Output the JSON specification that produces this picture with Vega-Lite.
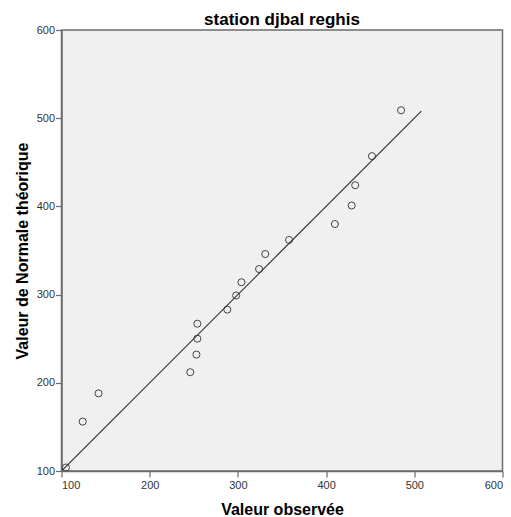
{
  "$schema": "https://vega.github.io/schema/vega-lite/v6.json",
  "width": 441,
  "height": 441,
  "autosize": {"type": "none"},
  "padding": {"left": 61.5, "top": 30, "right": 8.5, "bottom": 46},
  "background": "white",
  "title": {
    "text": "station djbal reghis",
    "font": "Liberation Sans",
    "fontSize": 17,
    "fontWeight": "bold",
    "color": "#000000",
    "anchor": "middle",
    "frame": "group",
    "baseline": "alphabetic",
    "offset": 5,
    "dy": 23
  },
  "config": {
    "view": {"fill": "#f0f0f0", "stroke": "#6b6b6b", "strokeWidth": 1.5},
    "axis": {
      "grid": false,
      "domainColor": "#6b6b6b",
      "domainWidth": 1.5,
      "tickColor": "#6b6b6b",
      "tickWidth": 1.2,
      "tickSize": 6,
      "labelFont": "Liberation Sans",
      "labelFontSize": 11,
      "labelColor": "#333333",
      "titleFont": "Liberation Sans",
      "titleFontSize": 16,
      "titleFontWeight": "bold",
      "titleColor": "#000000"
    }
  },
  "layer": [
    {
      "data": {
        "values": [
          {"observed": 105, "expected": 104},
          {"observed": 124, "expected": 156},
          {"observed": 142, "expected": 188},
          {"observed": 246, "expected": 212},
          {"observed": 253, "expected": 232},
          {"observed": 254, "expected": 250},
          {"observed": 254, "expected": 267},
          {"observed": 288, "expected": 283},
          {"observed": 298, "expected": 299},
          {"observed": 304, "expected": 314},
          {"observed": 324, "expected": 329},
          {"observed": 331, "expected": 346},
          {"observed": 358, "expected": 362},
          {"observed": 410, "expected": 380},
          {"observed": 429, "expected": 401},
          {"observed": 433, "expected": 424},
          {"observed": 452, "expected": 457},
          {"observed": 485, "expected": 509}
        ]
      },
      "mark": {"type": "point", "shape": "circle", "filled": false, "stroke": "#444444", "strokeWidth": 1, "size": 50, "opacity": 1},
      "encoding": {
        "x": {
          "field": "observed", "type": "quantitative",
          "scale": {"domain": [100, 600], "nice": false, "zero": false},
          "axis": {"title": "Valeur observée", "values": [100, 200, 300, 400, 500, 600], "labelPadding": 2, "titleY": 43, "titleBaseline": "alphabetic"}
        },
        "y": {
          "field": "expected", "type": "quantitative",
          "scale": {"domain": [100, 600], "nice": false, "zero": false},
          "axis": {"title": "Valeur de Normale théorique", "values": [100, 200, 300, 400, 500, 600], "labelPadding": 1, "titleX": -34.5, "titleBaseline": "alphabetic"}
        }
      }
    },
    {
      "data": {"values": [{"observed": 101, "expected": 101}, {"observed": 508, "expected": 508}]},
      "mark": {"type": "line", "color": "#333333", "strokeWidth": 1.2},
      "encoding": {
        "x": {"field": "observed", "type": "quantitative"},
        "y": {"field": "expected", "type": "quantitative"}
      }
    }
  ]
}
